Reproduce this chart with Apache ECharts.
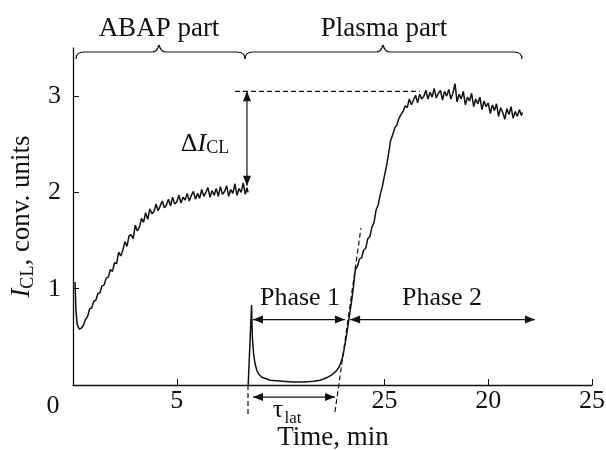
<!DOCTYPE html>
<html>
<head>
<meta charset="utf-8">
<script src="https://cdn.jsdelivr.net/npm/echarts@6/dist/echarts.min.js"></script>
<style>
  html, body { margin: 0; padding: 0; background: #fff; }
  #chart { width: 606px; height: 450px; }
</style>
</head>
<body>
<div id="chart"></div>
<script>
// ticks on the time axis, labels as printed in the figure
var xTickValues = [5, 15, 20, 25];
var xTickLabels = {5: '5', 15: '25', 20: '20', 25: '25'};
var yTickValues = [1, 2, 3];

// ABAP part (min, conv. units)
var abapPart = [
  [0.1,1.07],[0.14,0.78],[0.2,0.63],[0.3,0.58],[0.4,0.59],[0.5,0.62],[0.6,0.68],[0.7,0.71],
  [0.8,0.79],[0.9,0.80],[1.0,0.87],[1.1,0.88],[1.2,0.95],[1.3,0.96],[1.4,1.03],[1.5,1.04],
  [1.6,1.11],[1.7,1.12],[1.8,1.20],[1.9,1.18],[2.0,1.27],[2.1,1.26],[2.2,1.38],[2.3,1.34],
  [2.4,1.40],[2.5,1.49],[2.6,1.44],[2.7,1.55],[2.8,1.56],[2.9,1.52],[3.0,1.66],[3.1,1.60],
  [3.2,1.64],[3.3,1.73],[3.4,1.69],[3.5,1.79],[3.6,1.72],[3.7,1.83],[3.8,1.78],[3.9,1.80],
  [4.0,1.88],[4.1,1.81],[4.2,1.86],[4.3,1.91],[4.4,1.84],[4.5,1.87],[4.6,1.93],[4.7,1.86],
  [4.8,1.95],[4.9,1.88],[5.0,1.90],[5.1,1.97],[5.2,1.89],[5.3,1.95],[5.4,1.92],[5.5,1.99],
  [5.6,1.91],[5.7,1.97],[5.8,2.01],[5.9,1.93],[6.0,1.99],[6.1,1.94],[6.2,2.03],[6.3,1.96],
  [6.4,2.00],[6.5,2.05],[6.6,1.95],[6.7,2.02],[6.8,1.97],[6.9,2.04],[7.0,1.96],[7.1,2.06],
  [7.2,1.98],[7.3,2.01],[7.4,2.07],[7.5,1.96],[7.6,2.03],[7.7,1.99],[7.8,2.09],[7.9,1.97],
  [8.0,2.04],[8.1,2.00],[8.2,2.10],[8.3,1.98],[8.38,2.05],[8.43,2.00]
];

// plasma part, phase 1 (latent period)
var plasmaPhase1 = [
  [8.44,0.0],[8.5,0.0],[8.6,0.83],[8.64,0.5],[8.7,0.32],[8.77,0.22],[8.86,0.15],[8.96,0.11],
  [9.1,0.08],[9.3,0.065],[9.5,0.05],[9.8,0.045],[10.1,0.04],[10.4,0.035],[10.7,0.03],[11.0,0.03],
  [11.3,0.035],[11.6,0.04],[11.9,0.05],[12.1,0.065],[12.3,0.085],[12.5,0.11],[12.7,0.15],
  [12.85,0.2],[13.0,0.3],[13.1,0.42],[13.2,0.55],[13.3,0.7],[13.4,0.84],[13.5,1.0]
];

// plasma part, phase 2
var plasmaPhase2 = [
  [13.5,1.0],[13.6,1.2],[13.7,1.23],[13.8,1.31],[13.9,1.32],[14.0,1.4],[14.1,1.42],[14.2,1.52],
  [14.3,1.54],[14.4,1.64],[14.5,1.69],[14.6,1.82],[14.7,1.87],[14.8,1.98],[14.9,2.06],[15.0,2.17],
  [15.1,2.27],[15.2,2.40],[15.3,2.54],[15.4,2.60],[15.5,2.67],[15.6,2.70],[15.7,2.77],[15.8,2.81],
  [15.9,2.84],[16.0,2.90],[16.1,2.88],[16.2,2.97],[16.3,2.91],[16.4,2.96],[16.5,3.01],[16.6,2.93],
  [16.7,3.02],[16.8,2.97],[16.9,3.00],[17.0,3.06],[17.1,2.97],[17.2,3.04],[17.3,2.99],[17.4,3.08],
  [17.5,2.98],[17.6,3.03],[17.7,3.06],[17.8,2.96],[17.9,3.05],[18.0,3.00],[18.1,3.07],[18.2,2.97],
  [18.3,3.03],[18.4,3.13],[18.5,2.94],[18.6,3.02],[18.7,2.97],[18.8,3.05],[18.9,2.91],[19.0,2.99],
  [19.1,2.95],[19.2,3.03],[19.3,2.89],[19.4,2.97],[19.5,2.92],[19.6,2.99],[19.7,2.86],[19.8,2.95],
  [19.9,2.89],[20.0,2.93],[20.1,2.82],[20.2,2.91],[20.3,2.85],[20.4,2.92],[20.5,2.79],[20.6,2.88],
  [20.7,2.83],[20.8,2.76],[20.9,2.87],[21.0,2.81],[21.1,2.89],[21.2,2.77],[21.3,2.84],[21.4,2.79],
  [21.5,2.86],[21.6,2.80],[21.65,2.83]
];

var FONT = 'Liberation Serif';
var INK = '#111';

var chart = echarts.init(document.getElementById('chart'));
chart.setOption({
  animation: false,
  grid: {left: 73, right: 14, top: 48, bottom: 65, outerBoundsMode: 'none'},
  xAxis: {
    type: 'value', min: 0, max: 25, interval: 5,
    axisLine: {lineStyle: {color: INK, width: 1.3}},
    axisTick: {inside: true, length: 6, customValues: xTickValues, lineStyle: {color: INK}},
    axisLabel: {
      customValues: xTickValues, margin: 3,
      fontFamily: FONT, fontSize: 26, color: INK,
      formatter: function (v) { return xTickLabels[v] || ''; }
    },
    splitLine: {show: false}
  },
  yAxis: {
    type: 'value', min: 0, max: 3.5, interval: 0.5,
    name: '{i|I}{s|CL}{n|, conv. units}', nameLocation: 'middle', nameGap: 28, nameRotate: 90,
    nameTextStyle: {
      fontFamily: FONT, fontSize: 27, color: INK,
      rich: {
        i: {fontFamily: FONT, fontSize: 27, fontStyle: 'italic', color: INK, lineHeight: 30},
        s: {fontFamily: FONT, fontSize: 18, color: INK, verticalAlign: 'bottom', lineHeight: 14},
        n: {fontFamily: FONT, fontSize: 27, color: INK, lineHeight: 30}
      }
    },
    axisLine: {show: true, lineStyle: {color: INK, width: 1.3}},
    axisTick: {inside: true, length: 6, customValues: yTickValues, lineStyle: {color: INK}},
    axisLabel: {customValues: yTickValues, margin: 12, fontFamily: FONT, fontSize: 26, color: INK},
    splitLine: {show: false}
  },
  series: [abapPart, plasmaPhase1, plasmaPhase2].map(function (d) {
    return {
      type: 'line', data: d, showSymbol: false, symbol: 'none',
      lineStyle: {color: INK, width: 1.5}, clip: false, z: 3
    };
  })
});

// annotation geometry, in axis units
var deltaLevel = 3.05;
var deltaX = 8.38;
var phaseY = 0.68;
var tauY = -0.125;

function px(p) { return chart.convertToPixel({gridIndex: 0}, p); }

function seg(a, b, dashed) {
  return {
    type: 'line', z: 10,
    shape: {x1: a[0], y1: a[1], x2: b[0], y2: b[1]},
    style: {stroke: INK, lineWidth: 1.2, lineDash: dashed ? [5, 3] : null}
  };
}
function curve(a, c, b) {
  return {
    type: 'bezierCurve', z: 10,
    shape: {x1: a[0], y1: a[1], cpx1: c[0], cpy1: c[1], x2: b[0], y2: b[1]},
    style: {stroke: INK, lineWidth: 1.2, fill: null}
  };
}
function head(tip, from) {
  var dx = tip[0] - from[0], dy = tip[1] - from[1];
  var L = Math.sqrt(dx * dx + dy * dy); dx /= L; dy /= L;
  var len = 10, w = 4;
  var bx = tip[0] - dx * len, by = tip[1] - dy * len;
  return {
    type: 'polygon', z: 10,
    shape: {points: [tip, [bx - dy * w, by + dx * w], [bx + dy * w, by - dx * w]]},
    style: {fill: INK}
  };
}
function dbl(a, b) {
  var pa = px(a), pb = px(b);
  return [seg(pa, pb), head(pa, pb), head(pb, pa)];
}
function txt(x, y, text, size, rich) {
  var st = {
    text: text, fill: INK, fontFamily: FONT, fontSize: size,
    align: 'center', verticalAlign: 'middle'
  };
  if (rich) st.rich = rich;
  return {type: 'text', z: 10, x: x, y: y, style: st};
}
// curly brace between x0 and x1, cusp pointing up at xc
function brace(x0, xc, x1, y) {
  var parts = [];
  var top = y - 7, bot = y + 7;
  parts.push(curve([x0, bot], [x0, y], [x0 + 8, y]));
  parts.push(seg([x0 + 8, y], [xc - 7, y]));
  parts.push(curve([xc - 7, y], [xc - 2, y], [xc, top]));
  parts.push(curve([xc, top], [xc + 2, y], [xc + 7, y]));
  parts.push(seg([xc + 7, y], [x1 - 8, y]));
  parts.push(curve([x1 - 8, y], [x1, y], [x1, bot]));
  return parts;
}

var g = [];
g.push(seg(px([7.8, deltaLevel]), px([16.7, deltaLevel]), true));
g = g.concat(dbl([deltaX, deltaLevel], [deltaX, 2.07]));
g.push(seg(px([8.43, 0]), px([8.43, -0.3]), true));
g.push(seg(px([12.62, -0.28]), px([13.87, 1.63]), true));
g = g.concat(dbl([8.67, phaseY], [13.1, phaseY]));
g = g.concat(dbl([13.35, phaseY], [22.25, phaseY]));
g = g.concat(dbl([8.67, tauY], [12.62, tauY]));

// braces above the curve
g = g.concat(brace(76, 159, 245, 52));
g = g.concat(brace(245, 383, 522, 52));

g.push(txt(159, 29, 'ABAP part', 27));
g.push(txt(384, 29, 'Plasma part', 27));
g.push(txt(300, 298, 'Phase 1', 26));
g.push(txt(442, 298, 'Phase 2', 26));
g.push(txt(53, 406, '0', 26));
g.push(txt(278, 410, 'τ', 26));
g.push(txt(293, 419, 'lat', 17));
g.push(txt(333, 438, 'Time, min', 27));
g.push(txt(205, 144, '{d|Δ}{i|I}{s|CL}', 26, {
  d: {fontFamily: FONT, fontSize: 26, fill: INK, lineHeight: 26},
  i: {fontFamily: FONT, fontSize: 26, fontStyle: 'italic', fill: INK, lineHeight: 26},
  s: {fontFamily: FONT, fontSize: 18, fill: INK, verticalAlign: 'bottom', lineHeight: 13}
}));

chart.setOption({graphic: g});
</script>
</body>
</html>
